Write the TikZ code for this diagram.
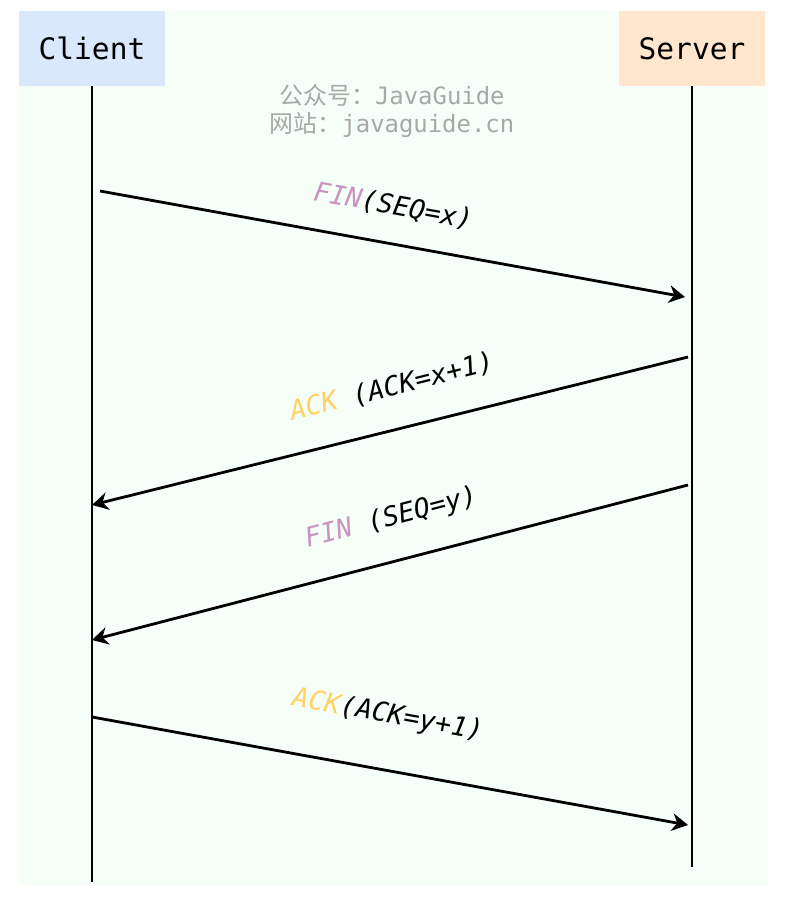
\documentclass[tikz,border=0pt]{standalone}
\usepackage{fontspec}
\newfontfamily\codefont{DejaVu Sans Mono}
\newfontfamily\cjk{Noto Sans CJK SC}
\usepackage{xcolor}
\usetikzlibrary{arrows.meta}
\definecolor{bgmint}{HTML}{F5FFF7}
\definecolor{clientblue}{HTML}{DAE8FC}
\definecolor{serverpeach}{HTML}{FFE6CC}
\definecolor{finpink}{HTML}{C994C0}
\definecolor{ackyellow}{HTML}{FFD166}
\definecolor{markgray}{HTML}{A8A8A8}

\begin{document}
\begin{tikzpicture}[x=0.025cm,y=-0.025cm,
        actor/.style={minimum width=3.65cm,minimum height=1.875cm,inner sep=0pt,font=\codefont\fontsize{21}{25}\selectfont},
        lifeline/.style={line width=0.65mm},
        msg/.style={-{Stealth[length=4mm,width=4.4mm]},line width=0.7mm},
        lbl/.style={sloped,inner sep=0pt,font=\codefont\itshape\fontsize{19}{23}\selectfont}]
        \useasboundingbox (0,0) rectangle (799,902);
        \fill[bgmint] (19,11) rectangle (768,885);
        \node[actor,fill=clientblue] (client) at (92,48.5) {Client};
        \node[actor,fill=serverpeach] (server) at (692,48.5) {Server};
        \node[text=markgray,font=\codefont\fontsize{17}{20}\selectfont] (mark1) at (392,95) {{\cjk 公众号：}JavaGuide};
        \node[text=markgray,font=\codefont\fontsize{17}{20}\selectfont] (mark2) at (392,125) {{\cjk 网站：}javaguide.cn};
        \coordinate (cend) at (92,882);
        \coordinate (send) at (692,867);
        \draw [lifeline] (client.south) -- (cend);
        \draw [lifeline] (server.south) -- (send);
        % message ends
        \coordinate (c1) at (100,191);  \coordinate (s1) at (685,297);
        \coordinate (s2) at (688,357);  \coordinate (c2) at (92,505);
        \coordinate (s3) at (688,485);  \coordinate (c3) at (92,640);
        \coordinate (c4) at (92,717);   \coordinate (s4) at (688,825);
        \draw [msg] (c1) -- node[lbl,pos=0.49,above=0.6cm] {\textcolor{finpink}{FIN}(SEQ=x)} (s1);
        \draw [msg] (s2) -- node[lbl,pos=0.48,above=0.72cm] {\textcolor{ackyellow}{ACK} (ACK=x+1)} (c2);
        \draw [msg] (s3) -- node[lbl,pos=0.48,above=0.7cm] {\textcolor{finpink}{FIN} (SEQ=y)} (c3);
        \draw [msg] (c4) -- node[lbl,pos=0.48,above=1cm] {\textcolor{ackyellow}{ACK}(ACK=y+1)} (s4);
    \end{tikzpicture}
\end{document}
